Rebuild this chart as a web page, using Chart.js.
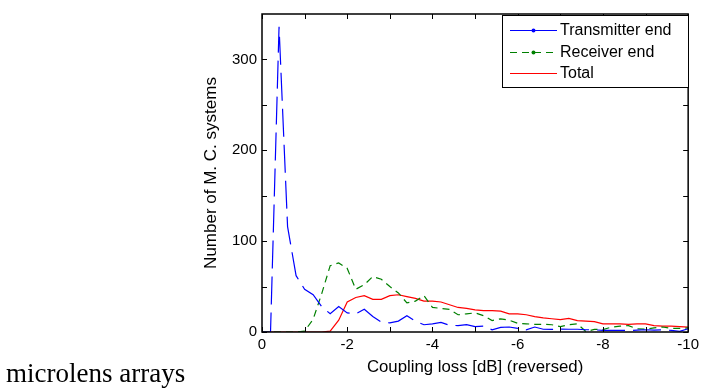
<!DOCTYPE html>
<html>
<head>
<meta charset="utf-8">
<script src="https://cdn.jsdelivr.net/npm/chart.js@4/dist/chart.umd.min.js"></script>
<style>
  html, body { margin: 0; padding: 0; background: #fff; }
  #wrap { position: relative; width: 703px; height: 391px; }
</style>
</head>
<body>
<div id="wrap"><canvas id="chart" width="703" height="391"></canvas></div>
<script>
// coupling loss bins (dB)
const lossDb = [0, -0.2, -0.4, -0.6, -0.8, -1.0, -1.2, -1.4, -1.6, -1.8,
  -2.0, -2.2, -2.4, -2.6, -2.8, -3.0, -3.2, -3.4, -3.6, -3.8,
  -4.0, -4.2, -4.4, -4.6, -4.8, -5.0, -5.2, -5.4, -5.6, -5.8,
  -6.0, -6.2, -6.4, -6.6, -6.8, -7.0, -7.2, -7.4, -7.6, -7.8,
  -8.0, -8.2, -8.4, -8.6, -8.8, -9.0, -9.2, -9.4, -9.6, -9.8, -10.0];

const transmitterEnd = [0, 0, 336, 116, 62, 47, 41, 28, 20, 28,
  21, 20, 25, 17, 11, 10, 12, 18, 12, 8,
  9, 10.5, 7.5, 7, 8, 6, 6.5, 2.4, 5, 5.5,
  4, 2.4, 5.5, 3, 2.8, 3.3, 3, 3, 2.5, 2.4,
  1.8, 1.7, 1.8, 1.7, 2, 2.5, 2, 2.4, 1.8, 0.7, 3.6];

const receiverEnd = [0, 0, 0, 0, 0, 1, 14, 42, 73, 76,
  70, 47, 52, 61, 58, 50, 43, 32, 34, 40,
  27, 26, 25, 19, 20, 21, 18, 12.6, 14.5, 13,
  9.6, 9, 8.5, 8.5, 8, 6, 8, 9, 0.5, 2.9,
  2.7, 5.4, 6.5, 7, 3.5, 3, 4.5, 5.5, 4, 4, 4.5];

const total = [0, 0, 0, 0, 0, 0, 0, 0, 1, 13,
  33, 38, 40, 36, 36, 40, 41, 39, 37, 34,
  34, 33, 30, 27, 26, 24.4, 23.5, 23.5, 23, 20,
  20, 19, 17, 15.5, 14.6, 13.6, 15, 12.6, 12, 11.5,
  9, 9, 9, 8.5, 9, 9, 7, 6.5, 6.5, 6, 5.4];

const xTicks = [0, -2, -4, -6, -8, -10];
const yTicks = [0, 100, 200, 300];
const xMinor = [0, -1, -2, -3, -4, -5, -6, -7, -8, -9, -10];
const yMinor = [0, 50, 100, 150, 200, 250, 300];

const seriesNames = ['Transmitter end', 'Receiver end', 'Total'];
const seriesColors = ['#0000ff', '#008000', '#ff0000'];

const FONT = '"Liberation Sans", Arial, sans-serif';

function pts(vals) {
  return vals.map((v, i) => ({ x: lossDb[i], y: v }));
}

// box, inward ticks, legend and the stray caption
const frame = {
  id: 'frame',
  afterDatasetsDraw(chart) {
    const { ctx, chartArea: a, scales: { x, y } } = chart;
    ctx.save();
    ctx.strokeStyle = '#000';
    ctx.lineWidth = 1;
    const tl = 5;
    ctx.beginPath();
    xMinor.forEach(v => {
      const px = Math.round(x.getPixelForValue(v)) + 0.5;
      ctx.moveTo(px, a.bottom); ctx.lineTo(px, a.bottom - tl);
      ctx.moveTo(px, a.top); ctx.lineTo(px, a.top + tl);
    });
    yMinor.forEach(v => {
      const py = Math.round(y.getPixelForValue(v)) + 0.5;
      ctx.moveTo(a.left, py); ctx.lineTo(a.left + tl, py);
      ctx.moveTo(a.right, py); ctx.lineTo(a.right - tl, py);
    });
    ctx.stroke();
    ctx.lineWidth = 1.5;
    ctx.strokeRect(a.left, a.top, a.right - a.left, a.bottom - a.top);

    // legend
    const lx = 502, ly = 15, lw = 186, lh = 72;
    ctx.fillStyle = '#fff';
    ctx.fillRect(lx, ly, lw, lh);
    ctx.lineWidth = 1;
    ctx.strokeStyle = '#000';
    ctx.strokeRect(lx + 0.5, ly + 0.5, lw, lh);
    const rows = [30, 52, 73];
    const dashes = [[], [7, 5], []];
    ctx.font = '16px ' + FONT;
    ctx.textBaseline = 'middle';
    seriesNames.forEach((name, i) => {
      const yy = rows[i] + 0.5;
      ctx.strokeStyle = seriesColors[i];
      ctx.setLineDash(dashes[i]);
      ctx.beginPath();
      ctx.moveTo(510, yy); ctx.lineTo(557, yy);
      ctx.stroke();
      ctx.setLineDash([]);
      if (i < 2) {
        ctx.fillStyle = seriesColors[i];
        ctx.beginPath();
        ctx.arc(533.5, yy, 2, 0, Math.PI * 2);
        ctx.fill();
      }
      ctx.fillStyle = '#000';
      ctx.fillText(name, 560, rows[i] + 1);
    });

    ctx.font = '27px "Liberation Serif", "Times New Roman", serif';
    ctx.textBaseline = 'alphabetic';
    ctx.fillStyle = '#000';
    ctx.fillText('microlens arrays', 6, 382);
    ctx.restore();
  }
};

new Chart(document.getElementById('chart'), {
  type: 'line',
  data: {
    datasets: [
      { label: seriesNames[0], data: pts(transmitterEnd), borderColor: seriesColors[0],
        borderWidth: 1.2, borderDash: [28, 8], pointRadius: 0, tension: 0 },
      { label: seriesNames[1], data: pts(receiverEnd), borderColor: seriesColors[1],
        borderWidth: 1.2, borderDash: [7, 5], pointRadius: 0, tension: 0 },
      { label: seriesNames[2], data: pts(total), borderColor: seriesColors[2],
        borderWidth: 1.2, pointRadius: 0, tension: 0 }
    ]
  },
  options: {
    responsive: false,
    animation: false,
    layout: { padding: { left: 201, top: 7, right: 14, bottom: 0 } },
    plugins: { legend: { display: false }, tooltip: { enabled: false } },
    scales: {
      x: {
        type: 'linear', reverse: true, min: -10, max: 0,
        afterFit: s => { s.height = 59; },
        afterBuildTicks: s => { s.ticks = xTicks.map(v => ({ value: v })); },
        grid: { display: false, drawTicks: false },
        border: { display: false },
        ticks: { color: '#000', font: { family: FONT, size: 15 }, padding: 4,
          maxRotation: 0, callback: v => String(v) },
        title: { display: true, text: 'Coupling loss [dB] (reversed)', color: '#000',
          font: { family: FONT, size: 16.8 }, padding: { top: 0, bottom: 14 } }
      },
      y: {
        min: 0, max: 350,
        afterFit: s => { s.width = 61; },
        afterBuildTicks: s => { s.ticks = yTicks.map(v => ({ value: v })); },
        grid: { display: false, drawTicks: false },
        border: { display: false },
        ticks: { color: '#000', font: { family: FONT, size: 15 }, padding: 5,
          callback: v => String(v) },
        title: { display: true, text: 'Number of M. C. systems', color: '#000',
          font: { family: FONT, size: 17 }, padding: 0 }
      }
    }
  },
  plugins: [frame]
});
</script>
</body>
</html>
